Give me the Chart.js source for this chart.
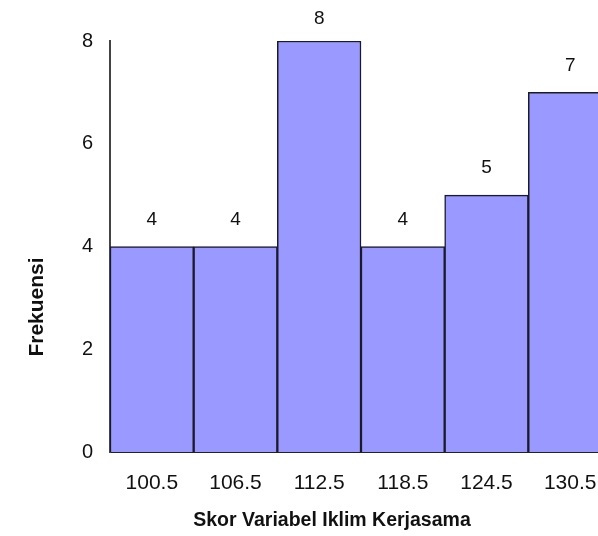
<!DOCTYPE html>
<html>
<head>
<meta charset="utf-8">
<script src="https://cdn.jsdelivr.net/npm/chart.js@4/dist/chart.umd.min.js"></script>
<style>
  html, body { margin: 0; padding: 0; background: #fff; overflow: hidden; }
  #wrap { width: 620px; height: 536px; }
</style>
</head>
<body>
<div id="wrap"><canvas id="hist" width="620" height="536"></canvas></div>
<script>
// histogram: skor variabel iklim kerjasama
const classMarks = ['100.5', '106.5', '112.5', '118.5', '124.5', '130.5']
const frequencies = [4, 4, 8, 4, 5, 7]
const yTicks = [0, 2, 4, 6, 8]

const FONT = "'Liberation Sans', Arial, sans-serif"
const TEXT = '#111'
const BAR_FILL = '#9999ff'

const xTitle = 'Skor Variabel Iklim Kerjasama'
const yTitle = 'Frekuensi'

// value labels over bars + axis titles (they sit off-centre in the original)
const labelsPlugin = {
  id: 'labels',
  afterDatasetsDraw(chart) {
    const { ctx } = chart
    const meta = chart.getDatasetMeta(0)
    ctx.save()
    ctx.fillStyle = TEXT
    ctx.font = '19px ' + FONT
    ctx.textAlign = 'center'
    ctx.textBaseline = 'middle'
    meta.data.forEach((bar, i) => {
      ctx.fillText(String(frequencies[i]), bar.x, Math.max(bar.y - 27, 19))
    })

    ctx.font = 'bold 19.5px ' + FONT
    ctx.fillText(xTitle, 332, 521)

    ctx.font = 'bold 21px ' + FONT
    ctx.translate(37, 307)
    ctx.rotate(-Math.PI / 2)
    ctx.fillText(yTitle, 0, 0)
    ctx.restore()
  },
}

new Chart(document.getElementById('hist').getContext('2d'), {
  type: 'bar',
  data: {
    labels: classMarks,
    datasets: [{
      data: frequencies,
      backgroundColor: BAR_FILL,
      borderColor: '#1a1a2a',
      borderWidth: 1.5,
      barPercentage: 1,
      categoryPercentage: 1,
    }],
  },
  options: {
    responsive: false,
    animation: false,
    layout: { padding: { top: 41, right: 8, left: 0, bottom: 0 } },
    plugins: {
      legend: { display: false },
      tooltip: { enabled: false },
    },
    scales: {
      x: {
        grid: { display: false, drawTicks: false },
        border: { color: '#222', width: 2 },
        ticks: { color: TEXT, font: { family: FONT, size: 21 }, padding: 19, maxRotation: 0 },
        afterFit: s => { s.height = 84 },
      },
      y: {
        min: 0,
        max: 8,
        grid: { display: false, drawTicks: false },
        border: { color: '#444', width: 2 },
        ticks: {
          color: TEXT,
          font: { family: FONT, size: 20 },
          padding: 17,
          stepSize: 2,
          callback: v => yTicks.includes(v) ? v : '',
        },
        afterFit: s => { s.width = 110 },
      },
    },
  },
  plugins: [labelsPlugin],
})
</script>
</body>
</html>
